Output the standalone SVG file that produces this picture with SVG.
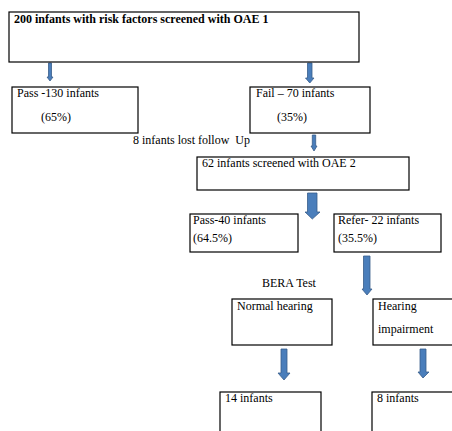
<svg xmlns="http://www.w3.org/2000/svg" width="452" height="431" viewBox="0 0 452 431">
<style>
.box{fill:#fff;stroke:#000;stroke-width:1.2}
.t{font-family:"Liberation Serif","Times New Roman",serif;font-size:12px;fill:#000}
.b{font-weight:bold}
.arr{fill:#4A7EBB;stroke:#385D8A;stroke-width:0.8}
</style>
<rect width="452" height="431" fill="#fff"/>
<g id="connectors">
<polygon class="arr" points="48.5,63 51.5,63 51.5,77 53,77 50,81 47,77 48.5,77"/>
<polygon class="arr" points="307.5,63 312,63 312,78 314,78 309.8,83 305.5,78 307.5,78"/>
<polygon class="arr" points="312.3,135 315.7,135 315.7,146 317,146 314,151 311,146 312.3,146"/>
<polygon class="arr" points="307.5,193 317,193 317,212 320,212 312.3,219 305,212 307.5,212"/>
<polygon class="arr" points="363.5,256 370,256 370,289 372,289 367,295 362,289 363.5,289"/>
<polygon class="arr" points="281,349 287,349 287,373 290,373 284,380 278,373 281,373"/>
<polygon class="arr" points="420,349 426,349 426,372 429,372 423,378 418,372 420,372"/>
</g>
<g id="n1"><rect class="box" x="9" y="12" width="350" height="50"/><text class="t b" x="14" y="23">200 infants with risk factors screened with OAE 1</text></g>
<g id="n2"><rect class="box" x="12" y="87" width="126" height="46"/><text class="t" x="17" y="97">Pass -130 infants</text><text class="t" x="41" y="121">(65%)</text></g>
<g id="n3"><rect class="box" x="250" y="87" width="120" height="46"/><text class="t" x="256" y="97">Fail – 70 infants</text><text class="t" x="277" y="121">(35%)</text></g>
<g id="lost"><text class="t" x="133" y="144">8 infants lost follow&#160; Up</text></g>
<g id="n4"><rect class="box" x="197" y="157" width="212" height="33"/><text class="t" x="202" y="167">62 infants screened with OAE 2</text></g>
<g id="n5"><rect class="box" x="190" y="214" width="108" height="38"/><text class="t" x="193" y="224">Pass-40 infants</text><text class="t" x="193" y="242">(64.5%)</text></g>
<g id="n6"><rect class="box" x="334" y="214" width="107" height="38"/><text class="t" x="338" y="224">Refer- 22 infants</text><text class="t" x="338" y="242">(35.5%)</text></g>
<g id="bera"><text class="t" x="262" y="287">BERA Test</text></g>
<g id="n7"><rect class="box" x="232" y="299" width="100" height="46"/><text class="t" x="237" y="310">Normal hearing</text></g>
<g id="n8"><rect class="box" x="373" y="299" width="90" height="46"/><text class="t" x="378" y="310">Hearing</text><text class="t" x="378" y="333">impairment</text></g>
<g id="n9"><rect class="box" x="220" y="392" width="101" height="50"/><text class="t" x="225" y="402">14 infants</text></g>
<g id="n10"><rect class="box" x="372" y="392" width="90" height="50"/><text class="t" x="377" y="402">8 infants</text></g>
</svg>
